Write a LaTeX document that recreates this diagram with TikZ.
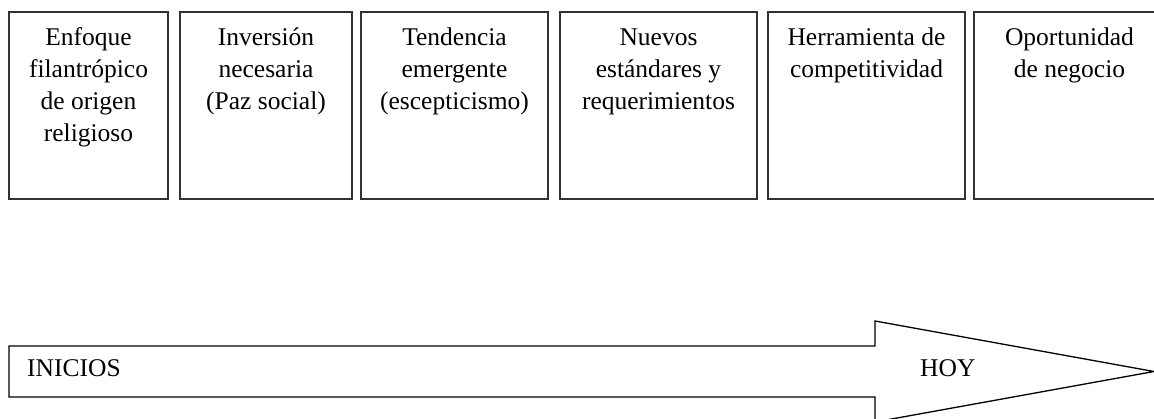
\documentclass[tikz,border=0pt]{standalone}
\usepackage{fontspec}
\setmainfont{Liberation Serif}
\begin{document}
\begin{tikzpicture}[x=1pt,y=-1pt,
  stagebox/.style={draw=black!80,line width=1.5pt,minimum height=187pt,inner sep=0pt},
  stagetext/.style={anchor=north,align=center,inner sep=0pt,font=\fontsize{25.5}{31.7}\selectfont},
  arrowtext/.style={anchor=base west,inner sep=0pt,font=\fontsize{25.5}{31.7}\selectfont},
  bigarrow/.style={draw=black,line width=1.3pt,line join=miter}]
\useasboundingbox (0,0) rectangle (1154,419);
\clip (0,0) rectangle (1154,419);
\node[stagebox,minimum width=159pt] (b1) at (88.5,105.5) {};
\node[stagebox,minimum width=172pt] (b2) at (266,105.5) {};
\node[stagebox,minimum width=187pt] (b3) at (454.5,105.5) {};
\node[stagebox,minimum width=197pt] (b4) at (658.5,105.5) {};
\node[stagebox,minimum width=197pt] (b5) at (866.5,105.5) {};
\node[stagebox,minimum width=191pt] (b6) at (1069.5,105.5) {};
\node[stagetext] (t1) at ([yshift=-12.3pt]b1.north) {\strut Enfoque\\filantrópico\\de origen\\religioso};
\node[stagetext] (t2) at ([yshift=-12.3pt]b2.north) {\strut Inversión\\necesaria\\(Paz social)};
\node[stagetext] (t3) at ([yshift=-12.3pt]b3.north) {\strut Tendencia\\emergente\\(escepticismo)};
\node[stagetext] (t4) at ([yshift=-12.3pt]b4.north) {\strut Nuevos\\estándares y\\requerimientos};
\node[stagetext] (t5) at ([yshift=-12.3pt]b5.north) {\strut Herramienta de\\competitividad};
\node[stagetext] (t6) at ([yshift=-12.3pt]b6.north) {\strut Oportunidad\\de negocio};
\draw[bigarrow] (9,346) -- (875,346) -- (875,321) -- (1154,371.5) -- (875,422) -- (875,397) -- (9,397) -- cycle;
\node[arrowtext] (start) at (27,377) {INICIOS};
\node[arrowtext] (today) at (920,377) {HOY};
\end{tikzpicture}
\end{document}
